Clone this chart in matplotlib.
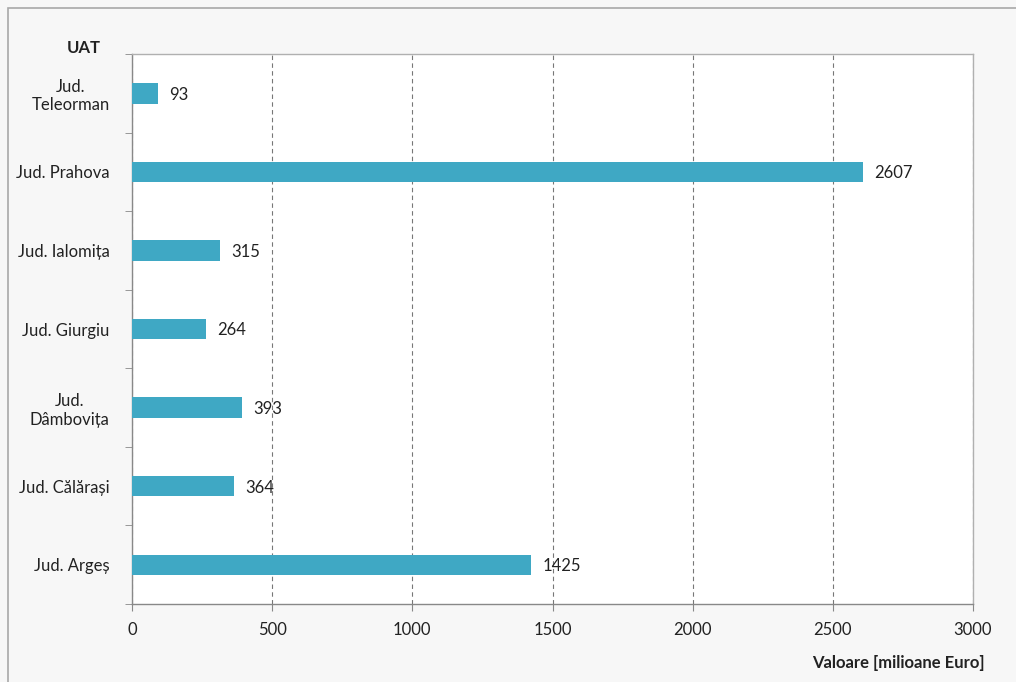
import numpy as np
import matplotlib.pyplot as plt
from matplotlib.patches import Rectangle

plt.rcParams['font.family'] = ['Lato', 'DejaVu Sans']

categories = ['Jud.\nTeleorman', 'Jud. Prahova', 'Jud. Ialomița', 'Jud. Giurgiu',
              'Jud.\nDâmbovița', 'Jud. Călărași', 'Jud. Argeș']
values = [93, 2607, 315, 264, 393, 364, 1425]
xticks = [0, 500, 1000, 1500, 2000, 2500, 3000]

BAR_COLOR = '#3fa8c4'

fig = plt.figure(figsize=(10.16, 6.82), dpi=100, facecolor='#f7f7f7')
ax = fig.add_axes([132 / 1016, 1 - 604 / 682, (973 - 132) / 1016, (604 - 54) / 682])
ax.set_facecolor('white')

# outer frame of the chart
fig.patches.append(Rectangle((8 / 1016, -0.1), 1.2, 1 - 8 / 682 + 0.1,
                             transform=fig.transFigure, fill=False,
                             edgecolor='#a8a8a8', linewidth=1.2))

y = np.arange(len(categories))
ax.barh(y, values, height=0.26, color=BAR_COLOR, zorder=3)
for yi, v in zip(y, values):
    ax.annotate(str(v), (v, yi), xytext=(8, -1), textcoords='offset points',
                va='center', ha='left', fontsize=12, color='#222222')

ax.set_xlim(0, 3000)
ax.set_ylim(len(categories) - 0.5, -0.5)
ax.set_xticks(xticks)
ax.set_xticklabels([str(t) for t in xticks], fontsize=12, color='#222222')
ax.set_yticks(y)
ax.set_yticklabels(categories, fontsize=12, color='#222222', linespacing=1.2,
                   multialignment='center')
ax.set_yticks(np.arange(len(categories) + 1) - 0.5, minor=True)
ax.tick_params(axis='y', which='major', length=0, pad=16)
ax.tick_params(axis='y', which='minor', length=5, color='#888888', direction='out')
ax.tick_params(axis='x', length=5, color='#888888', pad=8)

ax.xaxis.grid(True, linestyle=(0, (4, 3)), color='#777777', linewidth=0.8, zorder=0)
for s in ax.spines.values():
    s.set_color('#b0b0b0')
    s.set_linewidth(1.0)
ax.spines['left'].set_color('#888888')
ax.spines['bottom'].set_color('#888888')

fig.text(84 / 1016, 1 - 48 / 682, 'UAT', fontsize=12, fontweight='bold',
         ha='center', va='center', color='#222222')
fig.text(985 / 1016, 1 - 663 / 682, 'Valoare [milioane Euro]', fontsize=12,
         fontweight='bold', ha='right', va='center', color='#222222')

plt.savefig('out.png', dpi=100, facecolor=fig.get_facecolor())
